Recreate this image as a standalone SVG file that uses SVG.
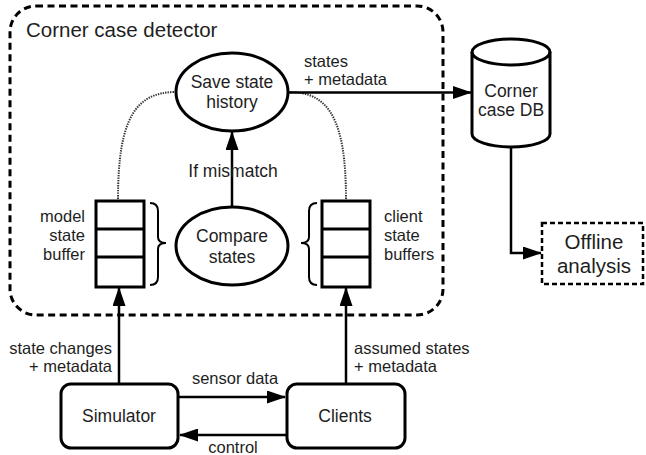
<svg xmlns="http://www.w3.org/2000/svg" width="646" height="455" viewBox="0 0 646 455">
<style>
text{font-family:"Liberation Sans",Arial,sans-serif;fill:#1e1e1e}
.lbl{font-size:16.5px}
.nd{font-size:17.5px}
.shape{fill:#fff;stroke:#000;stroke-width:3}
.conn{fill:none;stroke:#000;stroke-width:2.5}
.dot{fill:none;stroke:#333;stroke-width:2;stroke-dasharray:1.4 1.1}
.brace{fill:none;stroke:#000;stroke-width:2}
</style>
<defs>
<marker id="ah" viewBox="0 0 19 13" refX="18" refY="6.5" markerWidth="19" markerHeight="13" markerUnits="userSpaceOnUse" orient="auto">
<path d="M0,0 L19,6.5 L0,13 Z" fill="#000"/>
</marker>
</defs>
<g id="container">
<rect x="10" y="6" width="433" height="309" rx="26" fill="none" stroke="#000" stroke-width="3" stroke-dasharray="7 4.5"/>
<text x="26" y="37" style="font-size:20.5px">Corner case detector</text>
</g>
<g id="connectors">
<path class="dot" d="M118,199 C118,118 136,92 176,92"/>
<path class="dot" d="M346,199 C346,118 328,92 289,92"/>
<path class="conn" d="M232,207 L232,132" marker-end="url(#ah)"/>
<path class="conn" d="M289,92.5 L471,92.5" marker-end="url(#ah)"/>
<path class="conn" d="M511,147 L511,253 L541,253" marker-end="url(#ah)"/>
<path class="conn" d="M119,383 L119,288" marker-end="url(#ah)"/>
<path class="conn" d="M346,383 L346,288" marker-end="url(#ah)"/>
<path class="conn" d="M178,397 L285,397" marker-end="url(#ah)"/>
<path class="conn" d="M286,435 L180,435" marker-end="url(#ah)"/>
<text class="lbl" x="304" y="67">states</text>
<text class="lbl" x="304" y="85">+ metadata</text>
<text class="nd" x="233" y="177" text-anchor="middle">If mismatch</text>
<text class="lbl" x="112" y="354" text-anchor="end">state changes</text>
<text class="lbl" x="112" y="372" text-anchor="end">+ metadata</text>
<text class="lbl" x="354" y="354">assumed states</text>
<text class="lbl" x="354" y="372">+ metadata</text>
<text class="lbl" x="235" y="384" text-anchor="middle">sensor data</text>
<text class="lbl" x="233" y="453" text-anchor="middle">control</text>
</g>
<g id="save-state-history">
<ellipse class="shape" cx="232" cy="92" rx="56" ry="39"/>
<text class="nd" x="232" y="88" text-anchor="middle">Save state</text>
<text class="nd" x="232" y="108" text-anchor="middle">history</text>
</g>
<g id="compare-states">
<ellipse class="shape" cx="232" cy="246" rx="56" ry="39"/>
<text class="nd" x="232" y="242" text-anchor="middle">Compare</text>
<text class="nd" x="232" y="263" text-anchor="middle">states</text>
</g>
<g id="model-state-buffer">
<rect class="shape" x="96" y="201" width="48" height="86"/>
<line x1="96" y1="229" x2="144" y2="229" stroke="#000" stroke-width="3"/>
<line x1="96" y1="257" x2="144" y2="257" stroke="#000" stroke-width="3"/>
<path class="brace" d="M150,203 Q158,203 158,211 L158,237 Q158,243 166,243 Q158,243 158,249 L158,277 Q158,285 150,285"/>
<text class="lbl" x="85" y="222" text-anchor="end">model</text>
<text class="lbl" x="85" y="241" text-anchor="end">state</text>
<text class="lbl" x="85" y="260" text-anchor="end">buffer</text>
</g>
<g id="client-state-buffers">
<rect class="shape" x="322" y="201" width="48" height="86"/>
<line x1="322" y1="229" x2="370" y2="229" stroke="#000" stroke-width="3"/>
<line x1="322" y1="257" x2="370" y2="257" stroke="#000" stroke-width="3"/>
<path class="brace" d="M317,203 Q309,203 309,211 L309,237 Q309,243 301,243 Q309,243 309,249 L309,277 Q309,285 317,285"/>
<text class="lbl" x="384" y="222">client</text>
<text class="lbl" x="384" y="241">state</text>
<text class="lbl" x="384" y="260">buffers</text>
</g>
<g id="corner-case-db">
<path class="shape" d="M472,52 L472,134 A39,13 0 0 0 550,134 L550,52 A39,13 0 0 0 472,52 Z"/>
<path fill="none" stroke="#000" stroke-width="3" d="M472,52 A39,13 0 0 0 550,52"/>
<text class="nd" x="511" y="97" text-anchor="middle">Corner</text>
<text class="nd" x="511" y="116" text-anchor="middle">case DB</text>
</g>
<g id="offline-analysis">
<rect x="542" y="223" width="101" height="61" fill="#fff" stroke="#000" stroke-width="2.5" stroke-dasharray="5 3"/>
<text x="594" y="249" text-anchor="middle" style="font-size:20.5px">Offline</text>
<text x="594" y="273" text-anchor="middle" style="font-size:20.5px">analysis</text>
</g>
<g id="simulator">
<rect class="shape" x="61" y="384" width="117" height="64" rx="10"/>
<text class="nd" x="119" y="422" text-anchor="middle">Simulator</text>
</g>
<g id="clients">
<rect class="shape" x="287" y="384" width="118" height="64" rx="10"/>
<text class="nd" x="345" y="422" text-anchor="middle">Clients</text>
</g>
</svg>
